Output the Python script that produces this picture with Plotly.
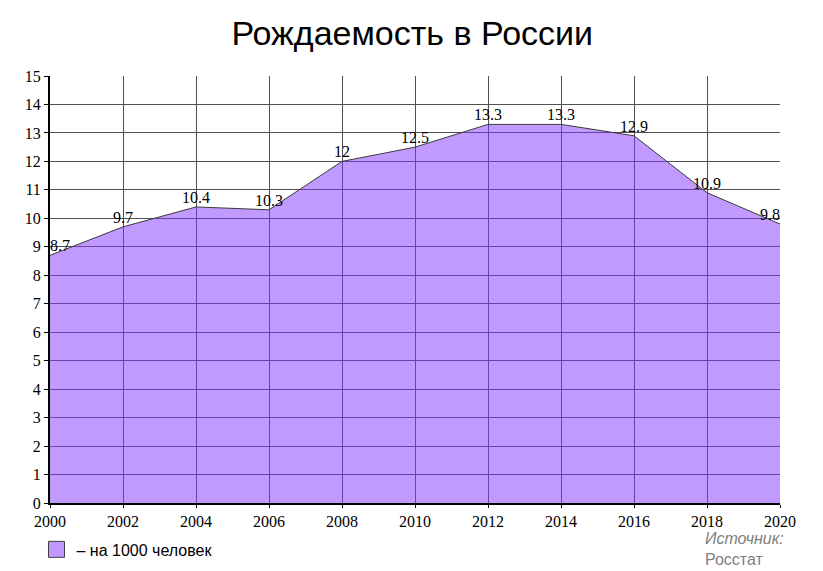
import plotly.graph_objects as go

years = [2000, 2002, 2004, 2006, 2008, 2010, 2012, 2014, 2016, 2018, 2020]
births = [8.7, 9.7, 10.4, 10.3, 12.0, 12.5, 13.3, 13.3, 12.9, 10.9, 9.8]
labels = ["8.7", "9.7", "10.4", "10.3", "12", "12.5", "13.3", "13.3", "12.9", "10.9", "9.8"]
y_ticks = list(range(0, 16))
x_ticks = list(range(2000, 2021, 2))

positions = ["top center"] * len(years)
positions[0] = "top right"
positions[-1] = "top left"

fig = go.Figure()
fig.add_trace(go.Scatter(
    x=years, y=births, mode="lines+text", text=labels, textposition=positions,
    textfont=dict(family="Liberation Serif", size=16, color="#000"),
    fill="tozeroy", fillcolor="rgba(129,53,255,0.5)",
    line=dict(color="#3a3a3a", width=1),
    showlegend=False, cliponaxis=False,
))
fig.add_trace(go.Scatter(
    x=[None], y=[None], mode="markers", name="– на 1000 человек",
    marker=dict(symbol="square", size=16, color="#C096FF", line=dict(color="#404040", width=1)),
    showlegend=True,
))

fig.update_layout(
    width=815, height=563,
    margin=dict(l=42, r=43, t=68, b=68, autoexpand=False),
    paper_bgcolor="white", plot_bgcolor="white",
    title=dict(text="Рождаемость в России", x=0.496, xanchor="center", y=0.956, yanchor="middle",
               font=dict(family="Liberation Sans", size=34, color="#000")),
    showlegend=True,
    legend=dict(x=-0.0185, y=-0.069, xanchor="left", yanchor="top",
                font=dict(family="Liberation Sans", size=16, color="#000"),
                itemwidth=30, bgcolor="rgba(0,0,0,0)"),
    xaxis=dict(range=[2000, 2020], tickvals=x_ticks, ticktext=[str(v) for v in x_ticks],
               showgrid=True, gridcolor="#505050", gridwidth=1,
               showline=True, linecolor="#000", linewidth=2,
               ticks="outside", ticklen=3, tickcolor="#000",
               tickfont=dict(family="Liberation Serif", size=16, color="#000"),
               zeroline=False, fixedrange=True),
    yaxis=dict(range=[0, 15], tickvals=y_ticks, ticktext=[str(v) for v in y_ticks],
               showgrid=True, gridcolor="#505050", gridwidth=1,
               showline=True, linecolor="#000", linewidth=2,
               ticks="outside", ticklen=4, tickcolor="#000",
               tickfont=dict(family="Liberation Serif", size=16, color="#000"),
               zeroline=False, fixedrange=True),
    annotations=[
        dict(text="<i>Источник:</i><br>Росстат", xref="paper", yref="paper",
             x=0.8945, y=-0.157, xanchor="left", yanchor="bottom", align="left", showarrow=False,
             font=dict(family="Liberation Sans", size=16, color="#808080")),
    ],
)

fig.write_html("out.html")
